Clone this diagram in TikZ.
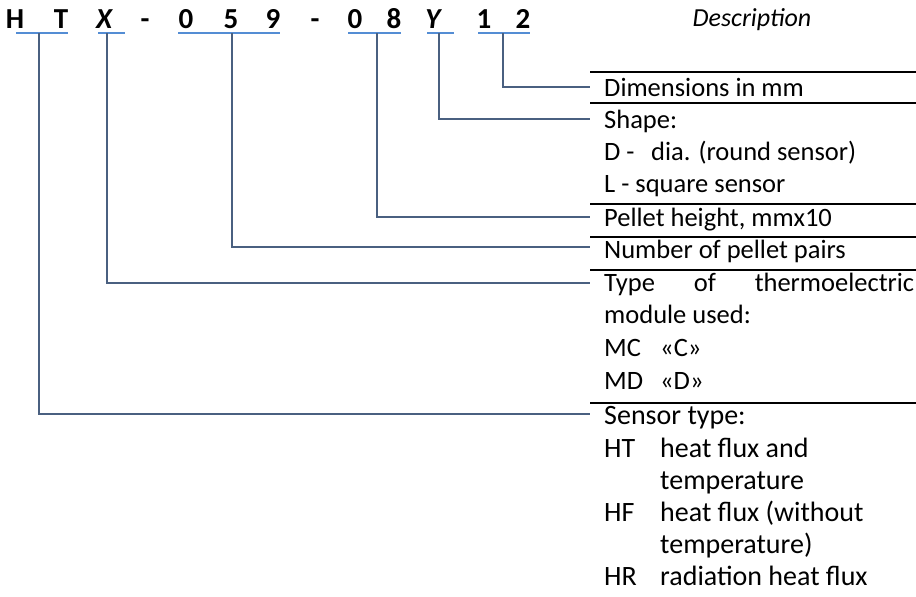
\documentclass[tikz,border=0pt]{standalone}
\usepackage{fontspec}
\setmainfont{Carlito}

\definecolor{ulblue}{RGB}{84,141,212}
\definecolor{linkblue}{RGB}{74,96,128}

\tikzstyle{code}=[inner sep=0, anchor=base,
                  font=\fontsize{29}{34}\selectfont\bfseries]
\tikzstyle{entry}=[inner sep=0, anchor=base west,
                   font=\fontsize{26.5}{31}\selectfont]
\tikzstyle{bigentry}=[entry, font=\fontsize{28}{33}\selectfont]
\tikzstyle{uline}=[ulblue, line width=1.5]
\tikzstyle{link}=[linkblue, line width=1.8]
\tikzstyle{rule}=[black, line width=2.2]

\begin{document}
\begin{tikzpicture}[x=1pt, y=-1pt]
\useasboundingbox (0,0) rectangle (916,597);

%%%%%%%%%%%%%%%%%%%%%%%%%%%%%%
% code

\node (c_H) at (15, 28) [code] {H};
\node (c_T) at (61, 28) [code] {T};
\node (c_X) at (104, 28) [code] {\itshape X};
\node (c_d1) at (145, 28) [code] {-};
\node (c_0a) at (186, 28) [code] {0};
\node (c_5) at (231, 28) [code] {5};
\node (c_9) at (273, 28) [code] {9};
\node (c_d2) at (315, 28) [code] {-};
\node (c_0b) at (355, 28) [code] {0};
\node (c_8) at (394, 28) [code] {8};
\node (c_Y) at (433, 28) [code] {\itshape Y};
\node (c_1) at (484, 28) [code] {1};
\node (c_2) at (523, 28) [code] {2};

\node (desc) at (752, 26) [code, font=\fontsize{26}{31}\selectfont\itshape] {Description};

% underlines
\draw[uline] (16, 33) to (68, 33);
\draw[uline] (98, 33) to (125, 33);
\draw[uline] (178, 33) to (280, 33);
\draw[uline] (348, 33) to (401, 33);
\draw[uline] (427, 33) to (454, 33);
\draw[uline] (478, 33) to (530, 33);

\coordinate (u_HT) at (39, 33);
\coordinate (u_X) at (107, 33);
\coordinate (u_059) at (232, 33);
\coordinate (u_08) at (377, 33);
\coordinate (u_Y) at (439, 33);
\coordinate (u_12) at (503, 33);

%%%%%%%%%%%%%%%%%%%%%%%%%%%%%%
% descriptions

\draw[rule] (590, 72) to (916, 72);
\node (dim) at (604, 96) [entry] {Dimensions in mm};
\draw[rule] (590, 103) to (916, 103);
\node (shape) at (604, 128) [entry] {Shape:};
\node (shape_D) at (604, 160) [entry] {\makebox[47pt][l]{D -}dia. (round sensor)};
\node (shape_L) at (604, 192) [entry] {L - square sensor};
\draw[rule] (590, 204) to (916, 204);
\node (height) at (604, 226) [entry] {Pellet height, mmx10};
\draw[rule] (590, 237) to (916, 237);
\node (pairs) at (604, 258) [entry] {Number of pellet pairs};
\draw[rule] (590, 270) to (916, 270);
\node (type) at (604, 291) [entry] {\makebox[310pt][s]{Type of thermoelectric}};
\node (type_2) at (604, 323) [entry] {module used:};
\node (type_MC) at (604, 356) [entry] {\makebox[56pt][l]{MC}«C»};
\node (type_MD) at (604, 389) [entry] {\makebox[56pt][l]{MD}«D»};
\draw[rule] (590, 403) to (916, 403);
\node (sensor) at (604, 424) [bigentry] {Sensor type:};
\node (sensor_HT) at (604, 457) [bigentry] {\makebox[56pt][l]{HT}heat flux and};
\node (sensor_HT2) at (660, 489) [bigentry] {temperature};
\node (sensor_HF) at (604, 521) [bigentry] {\makebox[56pt][l]{HF}heat flux (without};
\node (sensor_HF2) at (660, 553) [bigentry] {temperature)};
\node (sensor_HR) at (604, 585) [bigentry] {\makebox[56pt][l]{HR}radiation heat flux};

\coordinate (e_dim) at (590, 87);
\coordinate (e_shape) at (590, 119);
\coordinate (e_height) at (590, 217);
\coordinate (e_pairs) at (590, 247);
\coordinate (e_type) at (590, 283);
\coordinate (e_sensor) at (590, 414);

%%%%%%%%%%%%%%%%%%%%%%%%%%%%%%
% links

\draw[link] (u_12) |- (e_dim);
\draw[link] (u_Y) |- (e_shape);
\draw[link] (u_08) |- (e_height);
\draw[link] (u_059) |- (e_pairs);
\draw[link] (u_X) |- (e_type);
\draw[link] (u_HT) |- (e_sensor);

\end{tikzpicture}
\end{document}
